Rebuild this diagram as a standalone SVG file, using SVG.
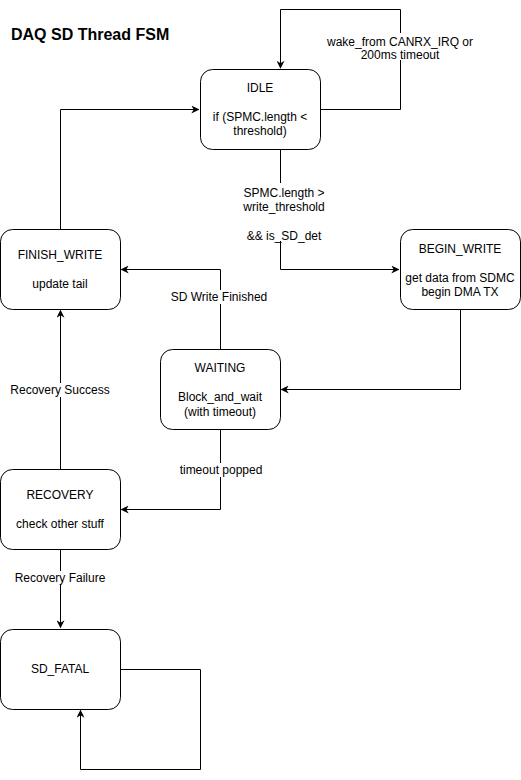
<svg xmlns="http://www.w3.org/2000/svg" width="521" height="780" viewBox="0 0 521 780">
<style>
.node{fill:#fff;stroke:#000;stroke-width:1}
.t{font-family:"Liberation Sans",Arial,sans-serif;font-size:12px;fill:#000;text-anchor:middle}
.e{fill:none;stroke:#000;stroke-width:1}
.lb{fill:#fff}
</style>
<defs>
<marker id="a" viewBox="0 0 10 10" refX="9" refY="5" markerWidth="8" markerHeight="8" markerUnits="userSpaceOnUse" orient="auto">
<path d="M0,0 L10,5 L0,10 L3,5 Z" fill="#000"/>
</marker>
</defs>
<rect width="521" height="780" fill="#fff"/>
<text x="11" y="40" font-family="'Liberation Sans',Arial,sans-serif" font-size="16" font-weight="bold">DAQ SD Thread FSM</text>
<g id="edges">
<path class="e" d="M320.5,109.5 H400.5 V9.5 H280.5 V68" marker-end="url(#a)"/>
<path class="e" d="M280.5,149.5 V269.5 H398.5" marker-end="url(#a)"/>
<path class="e" d="M460.5,309.5 V389.5 H281.5" marker-end="url(#a)"/>
<path class="e" d="M220.5,349.5 V269.5 H121.5" marker-end="url(#a)"/>
<path class="e" d="M220.5,429.5 V509.5 H121.5" marker-end="url(#a)"/>
<path class="e" d="M60.5,469.5 V310.5" marker-end="url(#a)"/>
<path class="e" d="M60.5,229.5 V109.5 H198.5" marker-end="url(#a)"/>
<path class="e" d="M60.5,549.5 V627.5" marker-end="url(#a)"/>
<path class="e" d="M120.5,669.5 H200.5 V769.5 H80.5 V710.5" marker-end="url(#a)"/>
<g id="labels">
<rect class="lb" x="326" y="33" width="150" height="27"/>
<text class="t" x="400" y="46">wake_from CANRX_IRQ or</text>
<text class="t" x="400" y="59">200ms timeout</text>
<rect class="lb" x="240" y="183" width="82" height="58"/>
<text class="t" x="284" y="197">SPMC.length &gt;</text>
<text class="t" x="284" y="211">write_threshold</text>
<text class="t" x="284" y="240">&amp;&amp; is_SD_det</text>
<rect class="lb" x="170" y="290" width="100" height="14"/>
<text class="t" x="219" y="301">SD Write Finished</text>
<rect class="lb" x="178" y="463" width="86" height="14"/>
<text class="t" x="221" y="474">timeout popped</text>
<rect class="lb" x="10" y="383" width="102" height="14"/>
<text class="t" x="60" y="394">Recovery Success</text>
<rect class="lb" x="15" y="571" width="92" height="14"/>
<text class="t" x="60" y="582">Recovery Failure</text>
</g>
</g>
<g id="IDLE">
<rect class="node" x="200.5" y="69.5" width="120" height="80" rx="12"/>
<text class="t" x="260" y="92">IDLE</text>
<text class="t" x="260" y="121">if (SPMC.length &lt;</text>
<text class="t" x="260" y="135">threshold)</text>
</g>
<g id="BEGIN_WRITE">
<rect class="node" x="400.5" y="229.5" width="120" height="80" rx="12"/>
<text class="t" x="460" y="253">BEGIN_WRITE</text>
<text class="t" x="460" y="282">get data from SDMC</text>
<text class="t" x="460" y="296">begin DMA TX</text>
</g>
<g id="FINISH_WRITE">
<rect class="node" x="0.5" y="229.5" width="120" height="80" rx="12"/>
<text class="t" x="60" y="259">FINISH_WRITE</text>
<text class="t" x="60" y="288">update tail</text>
</g>
<g id="WAITING">
<rect class="node" x="160.5" y="349.5" width="120" height="80" rx="12"/>
<text class="t" x="220" y="372">WAITING</text>
<text class="t" x="220" y="401">Block_and_wait</text>
<text class="t" x="220" y="416">(with timeout)</text>
</g>
<g id="RECOVERY">
<rect class="node" x="0.5" y="469.5" width="120" height="80" rx="12"/>
<text class="t" x="60" y="499">RECOVERY</text>
<text class="t" x="60" y="528">check other stuff</text>
</g>
<g id="SD_FATAL">
<rect class="node" x="0.5" y="629.5" width="120" height="80" rx="12"/>
<text class="t" x="60" y="673">SD_FATAL</text>
</g>
</svg>
